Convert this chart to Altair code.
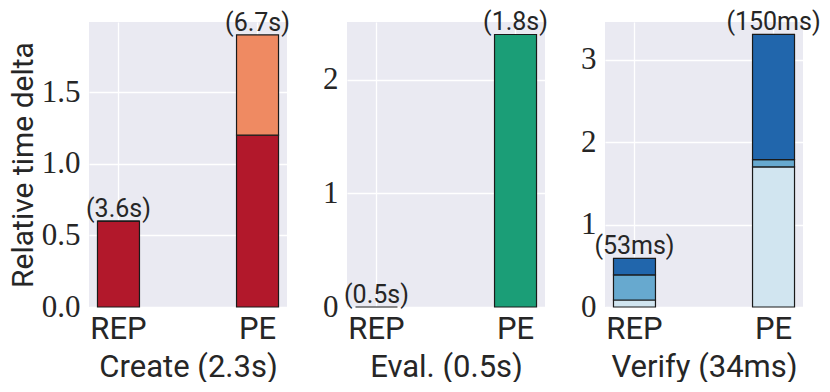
import altair as alt
import pandas as pd

categories = ["REP", "PE"]

panel_titles = ["Create (2.3s)", "Eval. (0.5s)", "Verify (34ms)"]

create_parts = ["part 1", "part 2"]
create_rep = [0.60, 0.0]
create_pe = [1.20, 0.70]
create_colors = ["#b2182b", "#ef8a62"]
create_labels = ["(3.6s)", "(6.7s)"]

eval_parts = ["part 1"]
eval_rep = [0.0]
eval_pe = [2.40]
eval_colors = ["#1b9e77"]
eval_labels = ["(0.5s)", "(1.8s)"]

verify_parts = ["part 1", "part 2", "part 3"]
verify_rep = [0.085, 0.305, 0.20]
verify_pe = [1.70, 0.09, 1.52]
verify_colors = ["#d1e5f0", "#67a9cf", "#2166ac"]
verify_labels = ["(53ms)", "(150ms)"]

y_max = [1.99, 2.51, 3.46]
y_ticks = [[0, 0.5, 1.0, 1.5], [0, 1, 2], [0, 1, 2, 3]]
y_formats = [".1f", "d", "d"]
y_title = "Relative time delta"

TEXT = "#262626"


def panel(title, parts, rep, pe, colors, labels, ymax, ticks, fmt, ytitle):
    rows = []
    for cat, vals in zip(categories, [rep, pe]):
        for i, (p, v, c) in enumerate(zip(parts, vals, colors)):
            rows.append(dict(cat=cat, part=p, order=i, value=v, color=c))
    df = pd.DataFrame(rows)
    tot = pd.DataFrame(dict(cat=categories, value=[sum(rep), sum(pe)], label=labels))

    x = alt.X("cat:N", sort=categories,
              scale=alt.Scale(paddingInner=0.698, paddingOuter=0.061),
              axis=alt.Axis(title=title, labelAngle=0, grid=True))
    yaxis = alt.Axis(values=ticks, format=fmt, title=ytitle)
    yscale = alt.Scale(domain=[0, ymax], nice=False, zero=True)

    bars = alt.Chart(df).mark_bar(stroke="#1a1a1a", strokeWidth=1.2).encode(
        x=x,
        y=alt.Y("value:Q", stack="zero", scale=yscale, axis=yaxis),
        color=alt.Color("color:N", scale=None),
        order=alt.Order("order:Q"),
    )
    text = alt.Chart(tot).mark_text(
        baseline="alphabetic", dy=-4, fontSize=25, font="Roboto", color=TEXT
    ).encode(
        x=x,
        y=alt.Y("value:Q", scale=yscale, axis=yaxis),
        text="label:N",
    )
    return alt.layer(bars, text).properties(width=198, height=285)


p1 = panel(panel_titles[0], create_parts, create_rep, create_pe, create_colors,
           create_labels, y_max[0], y_ticks[0], y_formats[0], y_title)
p2 = panel(panel_titles[1], eval_parts, eval_rep, eval_pe, eval_colors,
           eval_labels, y_max[1], y_ticks[1], y_formats[1], None)
p3 = panel(panel_titles[2], verify_parts, verify_rep, verify_pe, verify_colors,
           verify_labels, y_max[2], y_ticks[2], y_formats[2], None)

chart = alt.hconcat(p1, p2, p3, spacing=60, bounds="flush").properties(
    padding={"left": 0, "top": 2, "right": 0, "bottom": 0}
).configure_view(
    fill="#EAEAF2", strokeWidth=0
).configure_axis(
    domain=False, ticks=False, gridColor="white", gridWidth=1.3,
    labelColor=TEXT, titleColor=TEXT, titleFont="Roboto",
    titleFontWeight="normal", titleFontSize=31, labelFontSize=31,
).configure_axisX(
    labelFont="Roboto", labelFontSize=31, labelPadding=7, titlePadding=8,
).configure_axisY(
    labelFont="Liberation Serif", labelPadding=9, titlePadding=3,
    titleFontSize=30,
)

chart.save("out.html", embed_options={"renderer": "svg", "actions": False})
